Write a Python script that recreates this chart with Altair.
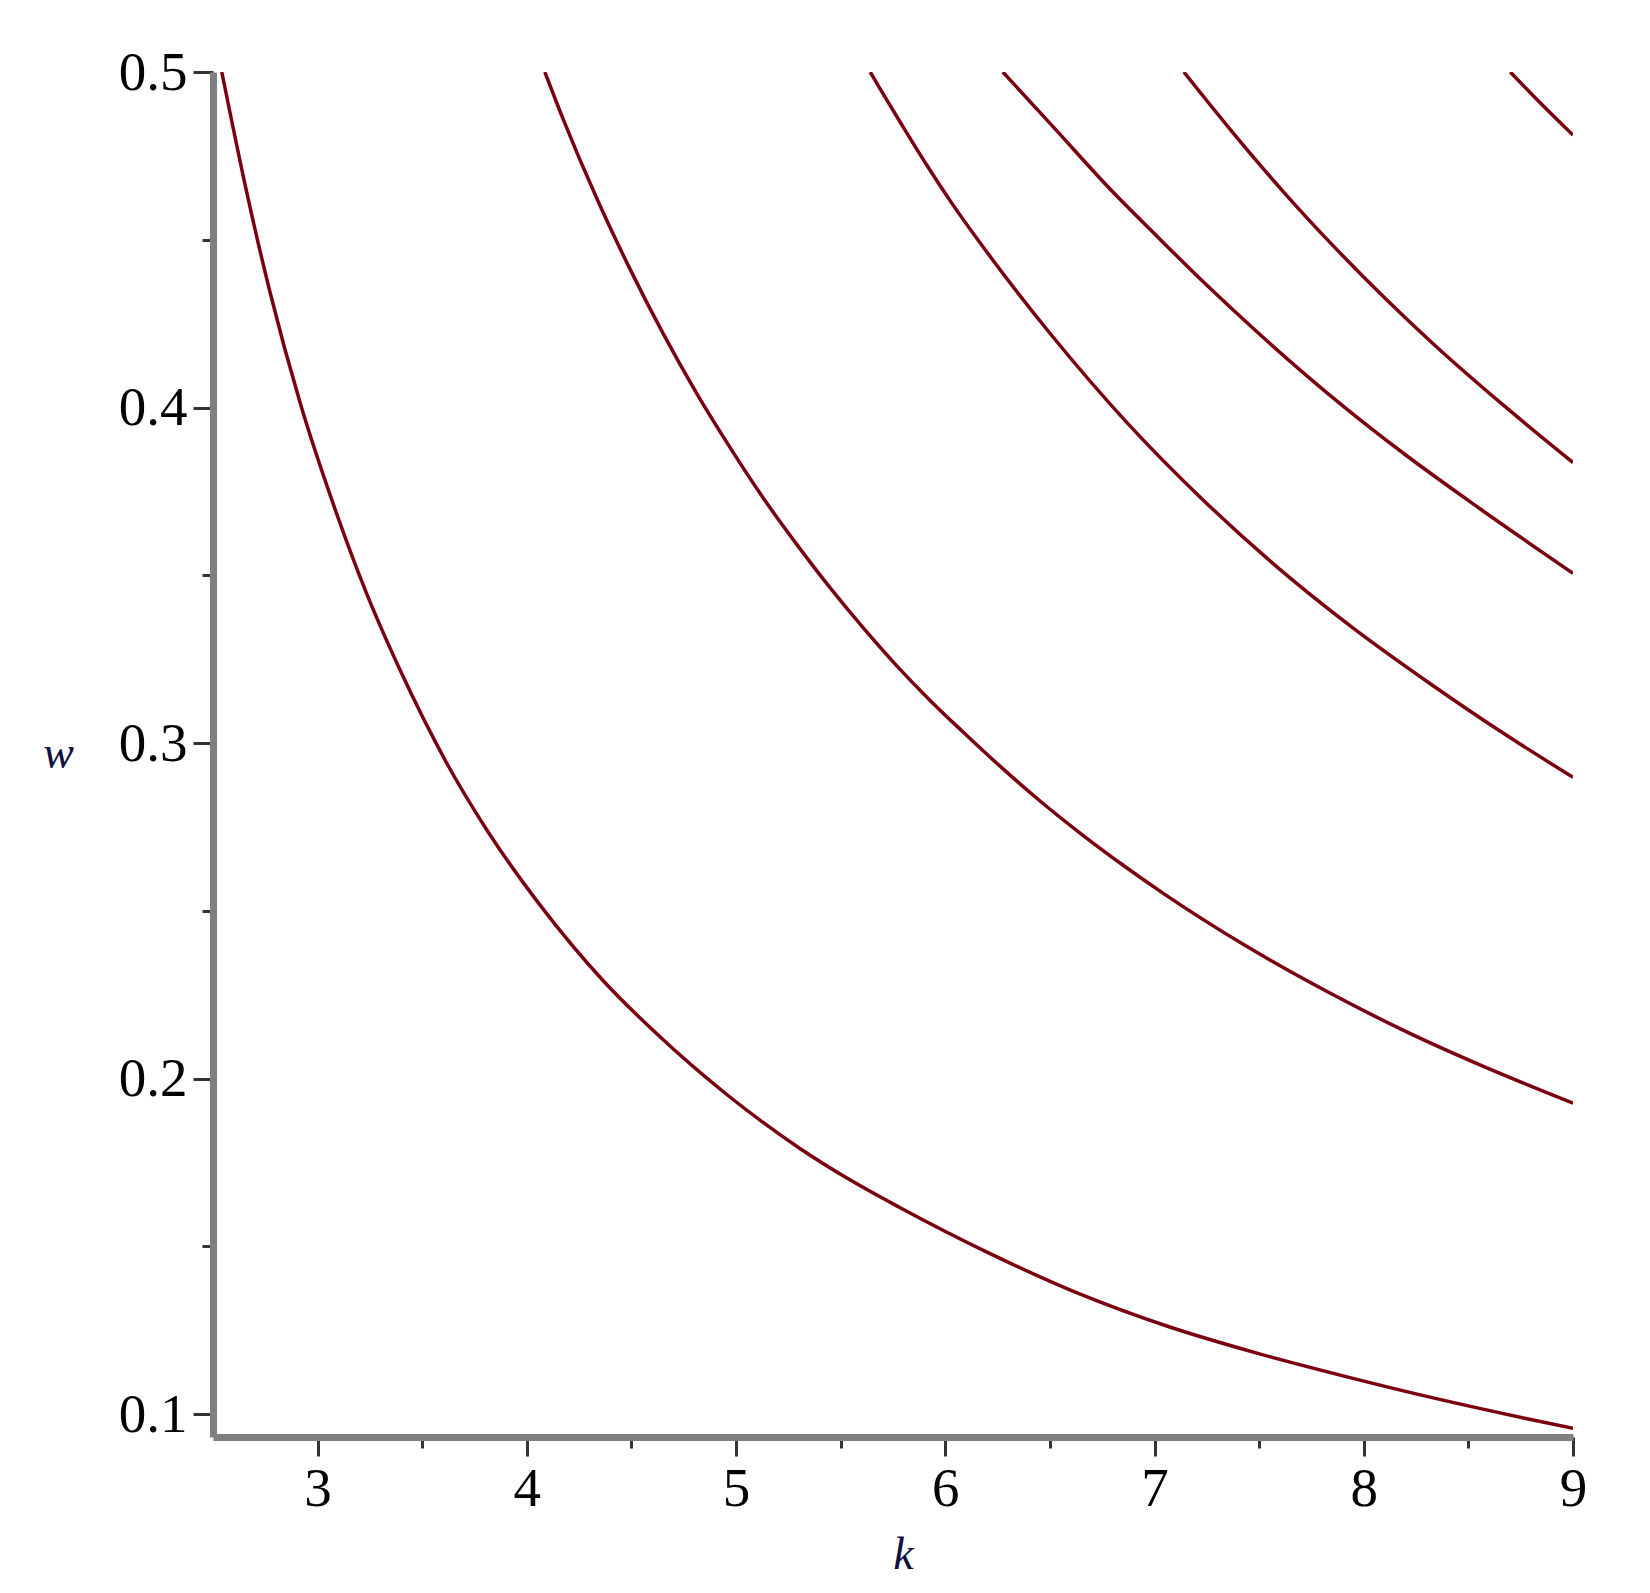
import altair as alt
import pandas as pd

# Curve data (k, w), lightly smoothed
c1_k = [2.542, 2.661, 2.772, 2.916, 3.075, 3.234, 3.393, 3.62, 3.812, 4.067, 4.366, 4.622,
        4.963, 5.305, 5.54, 5.782, 6.209, 6.636, 7.062, 7.489, 7.915, 8.342, 8.769, 9.0]
c1_w = [0.5, 0.4642, 0.4345, 0.4015, 0.3712, 0.3446, 0.3219, 0.2937, 0.2738, 0.2514, 0.2291, 0.2133,
        0.1949, 0.1792, 0.1700, 0.1616, 0.1480, 0.1360, 0.1262, 0.1182, 0.1112, 0.1047, 0.0988, 0.0958]

c2_k = [4.086, 4.174, 4.333, 4.492, 4.651, 4.811, 4.97, 5.129, 5.289, 5.448, 5.607, 5.767,
        5.926, 6.085, 6.26, 6.45, 6.65, 6.85, 7.04, 7.43, 7.82, 8.21, 8.60, 9.0]
c2_w = [0.5, 0.4859, 0.4625, 0.4414, 0.4221, 0.4043, 0.3882, 0.3731, 0.3593, 0.3464, 0.3344, 0.3231,
        0.3128, 0.3033, 0.2932, 0.2829, 0.2729, 0.2636, 0.2553, 0.2398, 0.2261, 0.2138, 0.2029, 0.1927]

c3_k = [5.641, 5.69, 5.787, 5.909, 6.03, 6.217, 6.506, 6.867, 7.228, 7.589, 7.951, 8.311, 8.673, 9.0]
c3_w = [0.5, 0.4948, 0.4848, 0.4725, 0.4610, 0.4448, 0.4217, 0.3956, 0.3727, 0.3523, 0.3342, 0.3180,
        0.3027, 0.2898]

c4_k = [6.275, 6.518, 6.80, 7.006, 7.249, 7.48, 7.83, 8.191, 8.552, 9.0]
c4_w = [0.5, 0.4835, 0.4643, 0.4514, 0.4365, 0.4231, 0.4041, 0.3863, 0.3700, 0.3506]

c5_k = [7.14, 7.372, 7.616, 7.86, 8.103, 8.33, 8.673, 9.0]
c5_w = [0.5, 0.4821, 0.4643, 0.4478, 0.4325, 0.4191, 0.4004, 0.3836]

c6_k = [8.70, 8.85, 9.0]
c6_w = [0.5, 0.4904, 0.4812]

curve_names = ["c1", "c2", "c3", "c4", "c5", "c6"]
curve_ks = [c1_k, c2_k, c3_k, c4_k, c5_k, c6_k]
curve_ws = [c1_w, c2_w, c3_w, c4_w, c5_w, c6_w]

x_major = [3, 4, 5, 6, 7, 8, 9]
x_minor = [3.5, 4.5, 5.5, 6.5, 7.5, 8.5]
y_major = [0.1, 0.2, 0.3, 0.4, 0.5]
y_minor = [0.15, 0.25, 0.35, 0.45]

rows = []
for name, ks, ws in zip(curve_names, curve_ks, curve_ws):
    for i, (k, w) in enumerate(zip(ks, ws)):
        rows.append({"curve": name, "k": k, "w": w, "order": i})
df = pd.DataFrame(rows)

x_scale = alt.Scale(domain=[2.5, 9], nice=False, zero=False)
y_scale = alt.Scale(domain=[0.0932, 0.5], nice=False, zero=False)

FONT = "Liberation Serif"

minor = alt.Chart(df).mark_line(opacity=0).encode(
    x=alt.X("k:Q", scale=x_scale, title=None,
            axis=alt.Axis(orient="bottom", values=x_minor, labels=False, domain=False,
                          grid=False, tickSize=11, tickWidth=3, tickColor="#333333")),
    y=alt.Y("w:Q", scale=y_scale, title=None,
            axis=alt.Axis(orient="left", values=y_minor, labels=False, domain=False,
                          grid=False, tickSize=11, tickWidth=3, tickColor="#333333")),
    detail="curve:N",
)

lines = alt.Chart(df).mark_line(color="#7a0010", strokeWidth=3.5, interpolate="monotone", clip=True).encode(
    x=alt.X("k:Q", scale=x_scale, title="k",
            axis=alt.Axis(orient="bottom", values=x_major, format="d", grid=False,
                          domain=True, domainColor="#808080", domainWidth=7,
                          tickSize=19, tickWidth=3, tickColor="#333333",
                          labelFont=FONT, labelFontSize=55, labelColor="#000000", labelPadding=6,
                          labelFlush=False, labelOverlap=False,
                          titleFont=FONT, titleFontSize=46, titleFontStyle="italic",
                          titleFontWeight="normal", titleColor="#101040",
                          titleX=690, titleY=131, titleAlign="center", titleBaseline="alphabetic")),
    y=alt.Y("w:Q", scale=y_scale, title="w",
            axis=alt.Axis(orient="left", values=y_major, format=".1f", grid=False,
                          domain=True, domainColor="#808080", domainWidth=7,
                          tickSize=20, tickWidth=3, tickColor="#333333",
                          labelFont=FONT, labelFontSize=55, labelColor="#000000", labelPadding=6,
                          labelFlush=False, labelOverlap=False,
                          titleFont=FONT, titleFontSize=46, titleFontStyle="italic",
                          titleFontWeight="normal", titleColor="#101040", titleAngle=0,
                          titleX=-155, titleY=695, titleAlign="center", titleBaseline="alphabetic")),
    detail="curve:N",
    order="order:Q",
)

chart = alt.layer(minor, lines).resolve_axis(x="independent", y="independent").properties(
    width=1360,
    height=1365,
    padding={"left": 205, "top": 64, "right": 60, "bottom": 140},
    autosize="none",
    background="white",
).configure_view(strokeOpacity=0)

chart.save("out.html", embed_options={"renderer": "svg", "actions": False})
